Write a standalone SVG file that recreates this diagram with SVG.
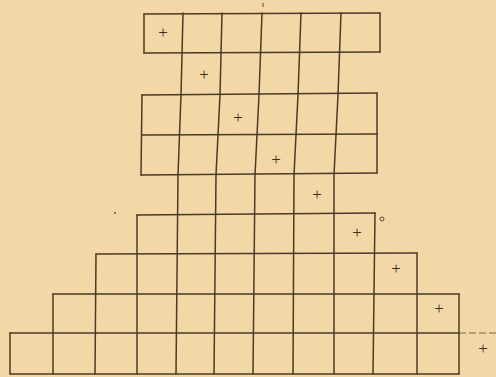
<svg xmlns="http://www.w3.org/2000/svg" width="496" height="377" viewBox="0 0 496 377">
<style>
.g{fill:none;stroke:#4a3a26;stroke-width:1.5;stroke-linecap:round;stroke-linejoin:round}
.f{fill:none;stroke:#7a6848;stroke-width:1;stroke-dasharray:7 3}
.m{font-family:"Liberation Serif",serif;font-size:17px;fill:#3e3020;text-anchor:middle}
</style>
<rect width="496" height="377" fill="#f2d8a7"/>
<g id="horizontals" class="g">
<line x1="144" y1="14" x2="380" y2="13"/>
<line x1="144" y1="53" x2="380" y2="52"/>
<line x1="142" y1="95" x2="377" y2="93"/>
<line x1="142" y1="135" x2="377" y2="134"/>
<line x1="141" y1="175" x2="377" y2="173"/>
<line x1="137" y1="215" x2="375" y2="213"/>
<line x1="96" y1="254" x2="417" y2="253"/>
<line x1="53" y1="294" x2="459" y2="294"/>
<line x1="10" y1="333" x2="459" y2="333"/>
<line x1="10" y1="374" x2="459" y2="374"/>
</g>
<line class="f" x1="459" y1="333" x2="496" y2="333"/>
<g id="verticals" class="g">
<line x1="144" y1="14" x2="144" y2="53"/>
<line x1="142" y1="95" x2="141" y2="175"/>
<line x1="137" y1="215" x2="137" y2="374"/>
<polyline points="183,13 181,95 178,175 176,374"/>
<polyline points="222,13 220,95 216,175 214,374"/>
<polyline points="262,13 259,95 255,175 253,374"/>
<polyline points="301,13 298,95 294,175 293,374"/>
<polyline points="341,13 338,95 334,175 334,374"/>
<line x1="380" y1="13" x2="380" y2="52"/>
<line x1="377" y1="93" x2="377" y2="173"/>
<line x1="375" y1="213" x2="373" y2="374"/>
<line x1="96" y1="254" x2="95" y2="374"/>
<line x1="53" y1="294" x2="53" y2="374"/>
<line x1="10" y1="333" x2="10" y2="374"/>
<line x1="417" y1="253" x2="417" y2="374"/>
<line x1="459" y1="294" x2="459" y2="374"/>
</g>
<g id="marks" class="m">
<text x="163" y="38">+</text>
<text x="204" y="80">+</text>
<text x="238" y="123">+</text>
<text x="276" y="165">+</text>
<text x="317" y="200">+</text>
<text x="357" y="238">+</text>
<text x="396" y="274">+</text>
<text x="439" y="314">+</text>
<text x="483" y="354">+</text>
</g>
<circle cx="382" cy="219" r="2" fill="none" stroke="#5a4a32" stroke-width="1"/>
<circle cx="115" cy="213" r="0.9" fill="#5a4a32"/>
<line x1="263" y1="3" x2="263" y2="7" stroke="#5a4a32" stroke-width="1"/>
</svg>
